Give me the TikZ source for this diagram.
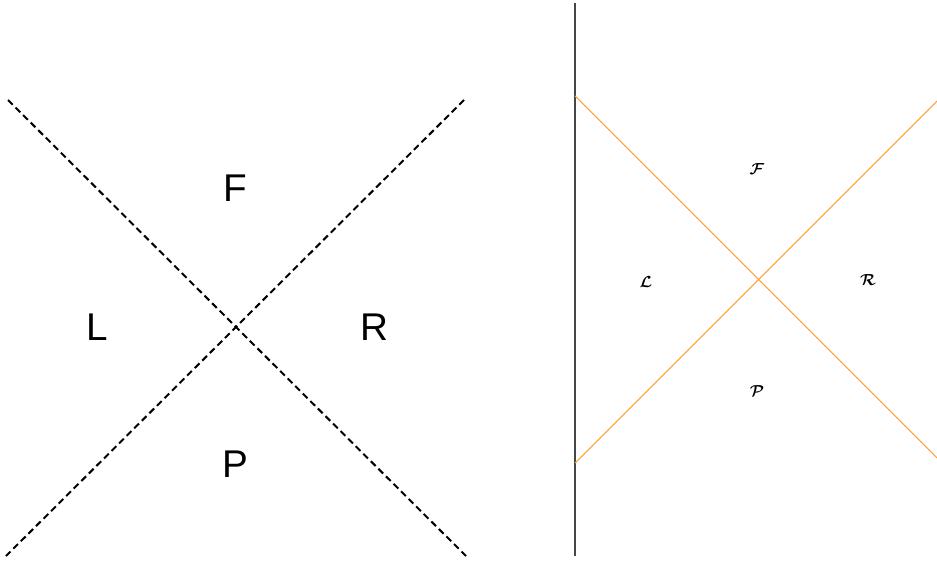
\documentclass[tikz,border=0pt]{standalone}
\usepackage{fontspec}
\setsansfont{Liberation Sans}
\definecolor{lorange}{RGB}{255,160,55}
\definecolor{axisgray}{RGB}{70,70,70}
\begin{document}
\begin{tikzpicture}[x=0.75pt,y=-0.75pt,
  dline/.style={black, line width=1.5pt, dash pattern=on 5pt off 3pt},
  oline/.style={lorange, line width=0.8pt},
  biglabel/.style={font=\sffamily\fontsize{29}{32}\selectfont, inner sep=0pt},
  smalllabel/.style={font=\fontsize{13}{15}\selectfont\boldmath, inner sep=0pt}]
\useasboundingbox (0,0) rectangle (937,563);
% left diagram
\coordinate (a1) at (8,100);
\coordinate (a2) at (466,556);
\coordinate (b1) at (464,100);
\coordinate (b2) at (6,556);
\draw[dline] (a1) -- (a2);
\draw[dline] (b1) -- (b2);
\node[biglabel] (F) at (235,188) {F};
\node[biglabel] (L) at (97,327) {L};
\node[biglabel] (R) at (374,327) {R};
\node[biglabel] (P) at (235,464) {P};
% right diagram
\coordinate (v1) at (575,3);
\coordinate (v2) at (575,556);
\draw[axisgray, line width=0.8pt] (v1) -- (v2);
\coordinate (c1) at (575,96);
\coordinate (c2) at (937,458);
\coordinate (d1) at (575,463);
\coordinate (d2) at (937,101);
\draw[oline] (c1) -- (c2);
\draw[oline] (d1) -- (d2);
\node[smalllabel] (sF) at (757,169) {$\mathcal{F}$};
\node[smalllabel] (sL) at (646,282) {$\mathcal{L}$};
\node[smalllabel] (sR) at (868,280) {$\mathcal{R}$};
\node[smalllabel] (sP) at (757,391) {$\mathcal{P}$};
\end{tikzpicture}
\end{document}
